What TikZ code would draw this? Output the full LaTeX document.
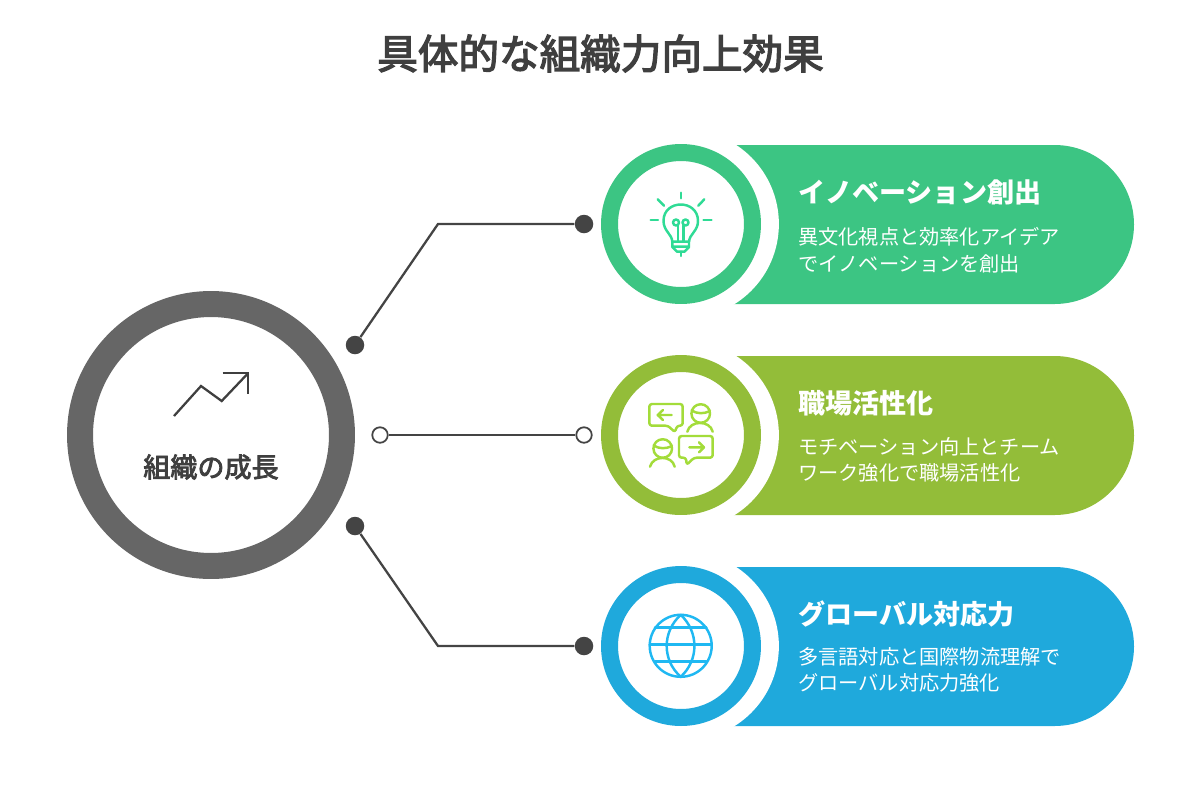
\documentclass[tikz,border=0pt]{standalone}
\usepackage{fontspec}
\setmainfont{Noto Sans CJK JP}
\newfontfamily\midfont[FakeBold=3.2]{Noto Sans CJK JP}
\definecolor{inkgray}{HTML}{3F3F3F}
\definecolor{ringgray}{HTML}{666666}
\definecolor{dotgray}{HTML}{444444}
\definecolor{pillgreen}{HTML}{3CC583}
\definecolor{pilllime}{HTML}{93BD39}
\definecolor{pillblue}{HTML}{1FA9DC}
\definecolor{icongreen}{HTML}{2FDB95}
\definecolor{iconlime}{HTML}{A3DC3A}
\definecolor{iconblue}{HTML}{1FB8F2}
\begin{document}
\begin{tikzpicture}[
    x=0.02cm, y=-0.02cm,
    hubring/.style={circle, draw=ringgray, line width=0.52cm, minimum size=5.24cm, inner sep=0pt},
    cardring/.style={circle, fill=white, draw=#1, line width=0.34cm, minimum size=2.86cm, inner sep=0pt},
    halo/.style={circle, fill=white, minimum size=3.78cm, inner sep=0pt},
    fulldot/.style={circle, fill=dotgray, minimum size=0.37cm, inner sep=0pt},
    opendot/.style={circle, draw=dotgray, fill=white, line width=1pt, minimum size=0.31cm, inner sep=0pt},
    link/.style={draw=dotgray, line width=1.3pt},
    icon/.style={draw=#1, line width=1.4pt, line cap=round, line join=round},
    heading/.style={anchor=west, text=white, font=\fontsize{15.4}{18}\selectfont\bfseries},
    body/.style={anchor=west, text=white, align=left, font=\fontsize{11.5}{15.2}\selectfont}
]
\useasboundingbox (0,0) rectangle (1200,792);

\node[text=inkgray, font=\fontsize{23.1}{26}\midfont] (title) at (600.5,53.5) {具体的な組織力向上効果};

% pills
\foreach \top/\col in {145/pillgreen, 356/pilllime, 567/pillblue}
    \fill[\col, rounded corners=1.59cm] (700,\top) -- (1134,\top) -- (1134,\top+159) -- (700,\top+159);

\node[hubring] (hub) at (211,435) {};
\node[halo] at (684.4,224) {};
\node[halo] at (684.4,435) {};
\node[halo] at (684.4,646) {};
\node[cardring=pillgreen] (ideas) at (681,224) {};
\node[cardring=pilllime] (work) at (681,435) {};
\node[cardring=pillblue] (world) at (681,646) {};

% hub
\node[text=inkgray, font=\fontsize{15.4}{18}\midfont] (hublabel) at (211,467) {組織の成長};
\draw[draw=inkgray, line width=1.3pt] (174,416) -- (201,386) -- (221.7,401) -- (248,373.3);
\draw[draw=inkgray, line width=1.3pt] (222.7,373.3) -- (248,373.3) -- (248,394);

% connectors
\node[fulldot] (d1) at (355,345) {};
\node[fulldot] (d2) at (584,224) {};
\node[opendot] (d3) at (380,435) {};
\node[opendot] (d4) at (584,435) {};
\node[fulldot] (d5) at (355,526) {};
\node[fulldot] (d6) at (584,646) {};
\coordinate (b1) at (438,224);
\coordinate (b2) at (438,646);
\draw[link] (d1) -- (b1) -- (d2);
\draw[link] (d3) -- (d4);
\draw[link] (d5) -- (b2) -- (d6);

% card texts
\node[heading] (h1) at (792,192) {イノベーション創出};
\node[body] (t1) at (792,250) {異文化視点と効率化アイデア\\でイノベーションを創出};
\node[heading] (h2) at (792,403) {職場活性化};
\node[body] (t2) at (792,460) {モチベーション向上とチーム\\ワーク強化で職場活性化};
\node[heading] (h3) at (792,614) {グローバル対応力};
\node[body] (t3) at (792,670) {多言語対応と国際物流理解で\\グローバル対応力強化};

% bulb
\begin{scope}[icon=icongreen]
\draw (681,192.7) -- (681,198.3) (650.7,220) -- (658,220) (703.5,220) -- (711.5,220);
\draw (657.7,199.3) -- (664,205.7) (704.3,199.3) -- (698.3,205.7);
\draw (672.3,241.7) .. controls (672,234) and (663.5,231) .. (663.5,221) .. controls (663.5,199) and (698,199) .. (698,221) .. controls (698,231) and (689.5,234) .. (689,241.7);
\draw (672.3,241.7) -- (689,241.7) (672.3,241.7) -- (672.3,247) -- (677,251.7) -- (684.5,251.7) -- (689,247) -- (689,241.7) (672.3,246.7) -- (689,246.7);
\draw (681,251.7) -- (681,256);
\draw (678,241.7) -- (678,225.5) (683.5,241.7) -- (683.5,225.5);
\draw (676,222.5) circle[radius=3] (685.5,222.5) circle[radius=3];
\end{scope}

% chat
\begin{scope}[icon=iconlime]
\draw[rounded corners=1.5pt] (649.3,404) -- (682.7,404) -- (682.7,425.7) -- (677,425.7) -- (675,432.3) -- (668,425.7) -- (649.3,425.7) -- cycle;
\draw (671.7,415) -- (657.7,415) (663,410) -- (657.7,415) -- (663,420);
\draw (700.7,413.5) circle[radius=9.3];
\draw (691.8,410.5) .. controls (697,414) and (704,414) .. (710,411);
\draw (687.3,431.7) .. controls (690,420) and (710,420) .. (712.7,431.7);
\draw (662.7,448.5) circle[radius=9.3];
\draw (653.8,445.5) .. controls (659,449) and (666,449) .. (672,446);
\draw (650,466.7) .. controls (653,455) and (672,455) .. (674.7,466.7);
\draw[rounded corners=1.5pt] (679,436) -- (712.7,436) -- (712.7,457.7) -- (694,457.7) -- (686.7,465) -- (686,457.7) -- (679,457.7) -- cycle;
\draw (689.3,447.3) -- (704,447.3) (699,442.3) -- (704,447.3) -- (699,452.3);
\end{scope}

% globe
\begin{scope}[icon=iconblue]
\draw (680.7,645.8) circle[radius=31];
\draw (680.7,614.8) .. controls (662,632) and (662,660) .. (680.7,676.8) .. controls (699,660) and (699,632) .. (680.7,614.8);
\draw (649.7,644.5) -- (711.7,644.5) (655,627.7) -- (706.4,627.7) (655,661.5) -- (706.4,661.5);
\end{scope}
\end{tikzpicture}
\end{document}
